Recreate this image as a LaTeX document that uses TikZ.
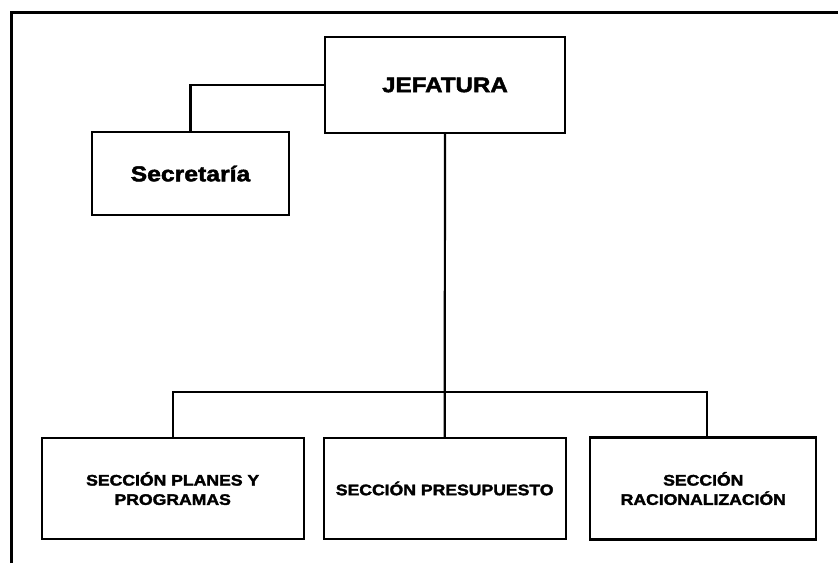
\documentclass[tikz,border=0pt]{standalone}
\usepackage{fontspec}
\newfontfamily\heavy[FakeBold=2.2,FakeStretch=1.15]{Liberation Sans Bold}
\begin{document}
\begin{tikzpicture}[x=1pt,y=-1pt,
  unit/.style={draw, line width=2.2pt, rectangle, align=center, inner sep=0pt},
  link/.style={line width=2.2pt},
  frame/.style={line width=3pt},
  big/.style={font=\heavy\fontsize{21}{24}\selectfont},
  small/.style={font=\heavy\fontsize{15.3}{19.3}\selectfont}]
\useasboundingbox (0,0) rectangle (838,563);
% outer frame (top and left only)
\draw[frame] (11.5,563) -- (11.5,12) -- (838,12);
% boxes
\node[unit, big, minimum width=240pt, minimum height=96pt] (jef) at (445,85) {JEFATURA};
\node[unit, font=\heavy\fontsize{21.5}{24}\selectfont, minimum width=197pt, minimum height=83pt] (sec) at (190.5,173.5) {Secretaría};
\node[unit, small, minimum width=262pt, minimum height=101pt] (b1) at (172.7,488.5) {SECCIÓN PLANES Y\\PROGRAMAS};
\node[unit, small, minimum width=242pt, minimum height=101pt] (b2) at (444.7,488.5) {SECCIÓN PRESUPUESTO};
\node[unit, small, minimum width=226pt, minimum height=102pt] (b3) at (703.3,488.5) {SECCIÓN\\RACIONALIZACIÓN};
% connectors
\coordinate (bus) at (444.7,392);
\draw[link] (jef.west) -| (sec.north);
\draw[link] (jef.south) -- (b2.north);
\draw[link] (b1.north) |- (bus) -| ([xshift=3.4pt]b3.north);
\end{tikzpicture}
\end{document}
